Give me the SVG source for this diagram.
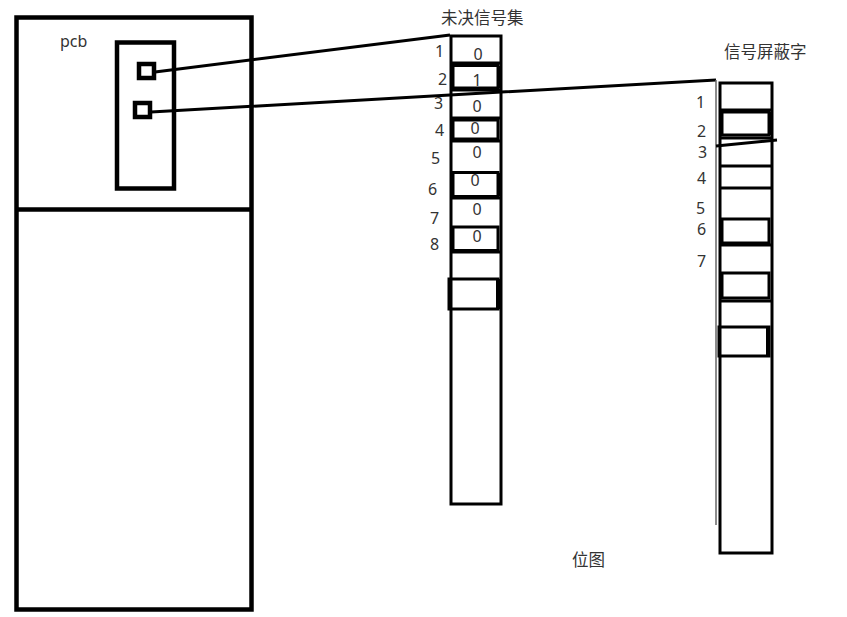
<svg xmlns="http://www.w3.org/2000/svg" width="847" height="617" viewBox="0 0 847 617">
<style>
.b{fill:none;stroke:#000;stroke-width:4.5}
.c{fill:none;stroke:#000;stroke-width:3}
.t{font-family:"Noto Sans","Noto Sans CJK SC",sans-serif;font-size:16px;fill:#333}
.z{font-family:"Noto Sans","Noto Sans CJK SC",sans-serif;font-size:16px;fill:#333;text-anchor:middle}
.h{font-family:"Noto Sans CJK SC",sans-serif;font-size:16.5px;fill:#333}
</style>
<rect width="847" height="617" fill="#fff"/>
<g id="pcb">
<rect class="b" x="16.5" y="17.5" width="235" height="592"/>
<line class="b" x1="16.5" y1="209.5" x2="251.5" y2="209.5"/>
<text class="t" x="60" y="47">pcb</text>
<rect class="b" x="117" y="42.5" width="57" height="146"/>
<rect class="b" x="139" y="64" width="15" height="14"/>
<rect class="b" x="135" y="103" width="15" height="14"/>
</g>
<g id="pending">
<text class="h" x="441" y="23.5">未决信号集</text>
<rect class="c" x="451" y="36" width="50" height="468"/>
<line class="c" x1="451" y1="63" x2="501" y2="63"/>
<rect class="c" x="453" y="65.5" width="45" height="22.5"/>
<line class="c" x1="451" y1="90" x2="501" y2="90"/>
<line class="c" x1="451" y1="118" x2="501" y2="118"/>
<rect class="c" x="453" y="120" width="45" height="19"/>
<line class="c" x1="451" y1="141" x2="501" y2="141"/>
<rect class="c" x="453" y="172.5" width="45" height="24"/>
<line class="c" x1="451" y1="198" x2="501" y2="198"/>
<rect class="c" x="453" y="227" width="45" height="23.5"/>
<line class="c" x1="451" y1="252" x2="501" y2="252"/>
<rect class="c" x="449" y="279" width="49" height="30"/>
<line stroke="#000" stroke-width="3" x1="499" y1="66" x2="499" y2="88"/>
<line stroke="#000" stroke-width="3" x1="499" y1="173" x2="499" y2="196"/>
<line stroke="#000" stroke-width="4" x1="498" y1="279" x2="498" y2="309"/>
<text class="t" x="435" y="57">1</text>
<text class="t" x="438" y="85">2</text>
<text class="t" x="434" y="109">3</text>
<text class="t" x="435" y="136">4</text>
<text class="t" x="431" y="164">5</text>
<text class="t" x="428" y="195">6</text>
<text class="t" x="430" y="224">7</text>
<text class="t" x="430" y="250">8</text>
<text class="z" x="478" y="60">0</text>
<text class="z" x="477" y="86">1</text>
<text class="z" x="477" y="112">0</text>
<text class="z" x="475" y="134">0</text>
<text class="z" x="477" y="158">0</text>
<text class="z" x="475" y="186">0</text>
<text class="z" x="477" y="215">0</text>
<text class="z" x="477" y="242">0</text>
</g>
<g id="mask">
<text class="h" x="724" y="58">信号屏蔽字</text>
<rect class="c" x="720" y="83" width="52" height="470"/>
<line class="c" x1="720" y1="110" x2="772" y2="110"/>
<rect class="c" x="722" y="112" width="47" height="23"/>
<line stroke="#000" stroke-width="3" x1="770" y1="112" x2="770" y2="135"/>
<line class="c" x1="720" y1="138" x2="772" y2="138"/>
<line class="c" x1="720" y1="166" x2="772" y2="166"/>
<line class="c" x1="720" y1="188" x2="772" y2="188"/>
<rect class="c" x="722" y="219" width="47" height="24"/>
<line class="c" x1="720" y1="245" x2="772" y2="245"/>
<rect class="c" x="722" y="273" width="47" height="25"/>
<line class="c" x1="720" y1="301" x2="772" y2="301"/>
<rect class="c" x="719" y="327" width="50" height="29"/>
<line stroke="#000" stroke-width="4" x1="768" y1="327" x2="768" y2="356"/>
<text class="t" x="696" y="108">1</text>
<text class="t" x="697" y="137">2</text>
<text class="t" x="698" y="158">3</text>
<text class="t" x="697" y="184">4</text>
<text class="t" x="696" y="214">5</text>
<text class="t" x="697" y="235">6</text>
<text class="t" x="697" y="267">7</text>
</g>
<g id="bitmap">
<text class="h" x="572" y="566">位图</text>
</g>
<g id="connectors">
<polyline class="c" points="155,72 450,35"/>
<polyline class="c" points="151,112 450,95 716,80"/>
<line stroke="#666" stroke-width="1.5" x1="716" y1="80" x2="716" y2="525"/>
<line class="c" x1="716" y1="146" x2="777" y2="140"/>
</g>
</svg>
